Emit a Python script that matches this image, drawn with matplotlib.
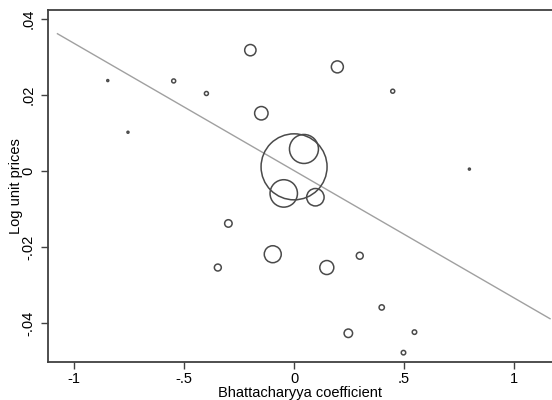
import matplotlib
matplotlib.use("Agg")
import matplotlib.pyplot as plt
import numpy as np

# Data
bhatt = [-0.848, -0.756, -0.548, -0.399, -0.199, 0.197, 0.449, -0.149,
         0.000, 0.045, -0.047, 0.097,
         -0.299, -0.097, -0.347, 0.149, 0.299, 0.399, 0.247, 0.548, 0.498, 0.798]
log_price = [0.0238, 0.0102, 0.0237, 0.0204, 0.0318, 0.0274, 0.0210, 0.0152,
             0.0011, 0.0058, -0.0059, -0.0069,
             -0.0138, -0.0219, -0.0254, -0.0254, -0.0223, -0.0359, -0.0427, -0.0424, -0.0478, 0.0005]
# relative weights (marker area)
weights = [1, 1, 4, 4, 32, 36, 4, 45,
           1089, 210, 188, 76,
           14, 72, 12, 49, 12, 7, 18, 5, 5, 1]

fit_slope = -0.03345
fit_intercept = 0.0001
fit_range = [-1.077, 1.165]

xticks = [-1, -0.5, 0, 0.5, 1]
xticklabels = ["-1", "-.5", "0", ".5", "1"]
yticks = [-0.04, -0.02, 0, 0.02, 0.04]
yticklabels = ["-.04", "-.02", "0", ".02", ".04"]

plt.rcParams['font.family'] = ['Liberation Sans', 'DejaVu Sans']

fig = plt.figure(figsize=(5.52, 4.0), dpi=100)
ax = fig.add_axes([48/552, 1 - 362/400, 1 - 48/552, (362 - 10)/400])

dark = "#404040"
w = np.array(weights, dtype=float)
radius_px = np.sqrt(w)
s = (2 * radius_px * 0.72) ** 2
ax.scatter(bhatt, log_price, s=s, facecolors="none", edgecolors="#4a4a4a",
           linewidths=1.1, zorder=3)

fx = np.array(fit_range)
ax.plot(fx, fit_intercept + fit_slope * fx, color="#a0a0a0", lw=1.0, zorder=2)

ax.set_xlim(-1.12, 1.174)
ax.set_ylim(-0.05026, 0.04237)

ax.set_xticks(xticks)
ax.set_xticklabels(xticklabels)
ax.set_yticks(yticks)
ax.set_yticklabels(yticklabels, rotation=90, va="center")

for side in ["left", "bottom", "top"]:
    ax.spines[side].set_color(dark)
    ax.spines[side].set_linewidth(1.3)
ax.spines["right"].set_visible(False)

ax.tick_params(axis="both", direction="out", length=5, width=1, color=dark,
               labelsize=10.5, labelcolor="black", pad=4)
ax.tick_params(axis="x", pad=2.5)

ax.set_xlabel("Bhattacharyya coefficient", fontsize=10.5, labelpad=-0.5)
ax.set_ylabel("Log unit prices", fontsize=10.5, labelpad=-1)

fig.savefig("out.png", dpi=100)
